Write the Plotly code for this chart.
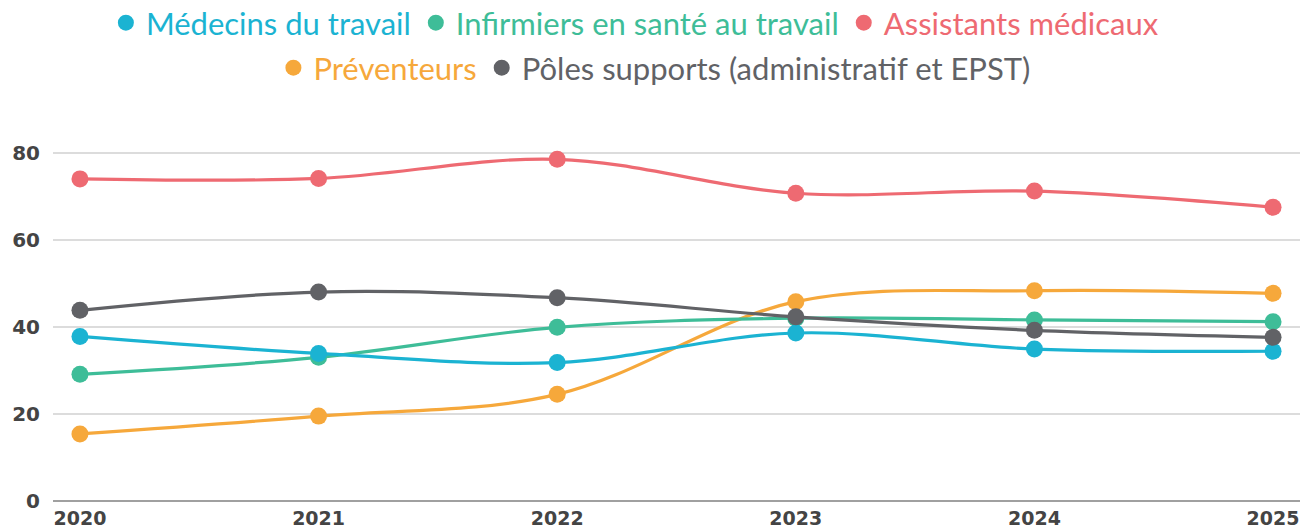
import plotly.graph_objects as go

years = [2020, 2021, 2022, 2023, 2024, 2025]
series_names = ["Médecins du travail", "Infirmiers en santé au travail", "Assistants médicaux",
                "Préventeurs", "Pôles supports (administratif et EPST)"]
medecins = [37.8, 33.9, 31.8, 38.6, 34.9, 34.4]
infirmiers = [29.1, 33.0, 39.9, 42.0, 41.6, 41.2]
assistants = [74.0, 74.1, 78.5, 70.7, 71.2, 67.5]
preventeurs = [15.4, 19.5, 24.5, 45.8, 48.3, 47.7]
poles = [43.8, 48.0, 46.7, 42.3, 39.2, 37.6]
colors = ["#1BB3D2", "#3EBD98", "#EE6A72", "#F6A83B", "#616266"]
y_ticks = [0, 20, 40, 60, 80]

values = [medecins, infirmiers, assistants, preventeurs, poles]
legend_of = ["legend", "legend", "legend", "legend2", "legend2"]

fig = go.Figure()
# draw order: back to front
order = [2, 3, 1, 0, 4]
for i in order:
    fig.add_trace(go.Scatter(
        x=years, y=values[i], mode="lines+markers", name=series_names[i],
        line=dict(color=colors[i], width=3.2, shape="spline", smoothing=1.0),
        marker=dict(color=colors[i], size=17),
        showlegend=False, cliponaxis=False,
    ))
for i in range(5):
    fig.add_trace(go.Scatter(
        x=[None], y=[None], mode="markers",
        name=f"<span style='color:{colors[i]}'>{series_names[i]}</span>",
        marker=dict(color=colors[i], size=16),
        legend=legend_of[i], showlegend=True,
    ))

W, H = 1301, 530
fig.update_layout(
    width=W, height=H,
    margin=dict(l=53, r=1, t=131, b=29, autoexpand=False),
    paper_bgcolor="white", plot_bgcolor="white",
    font=dict(family="Lato", color="#444"),
    legend=dict(orientation="h", x=0.488, xanchor="center", xref="container",
                y=1 - 23 / H, yanchor="middle", yref="container",
                font=dict(family="Lato", size=31, color="#444"),
                itemwidth=30, tracegroupgap=0, bgcolor="rgba(0,0,0,0)"),
    legend2=dict(orientation="h", x=0.503, xanchor="center", xref="container",
                 y=1 - 68 / H, yanchor="middle", yref="container",
                 font=dict(family="Lato", size=31, color="#444"),
                 itemwidth=30, tracegroupgap=0, bgcolor="rgba(0,0,0,0)"),
    xaxis=dict(range=[2019.887, 2025.113], tickvals=years, ticktext=[str(y) for y in years],
               showgrid=False, zeroline=False, showline=False, ticklabelstandoff=4,
               tickfont=dict(family="DejaVu Sans", size=19, color="#444", weight="bold")),
    yaxis=dict(range=[0, 85], tickvals=y_ticks, showgrid=True, gridcolor="#DCDCDC", gridwidth=1.5,
               zeroline=True, zerolinecolor="#A0A0A0", zerolinewidth=2,
               ticklabelstandoff=12,
               tickfont=dict(family="DejaVu Sans", size=20, color="#444", weight="bold")),
)

fig.write_html("out.html", config={"displayModeBar": False},
               post_script="document.body.style.margin='0';document.body.style.overflow='hidden';")
